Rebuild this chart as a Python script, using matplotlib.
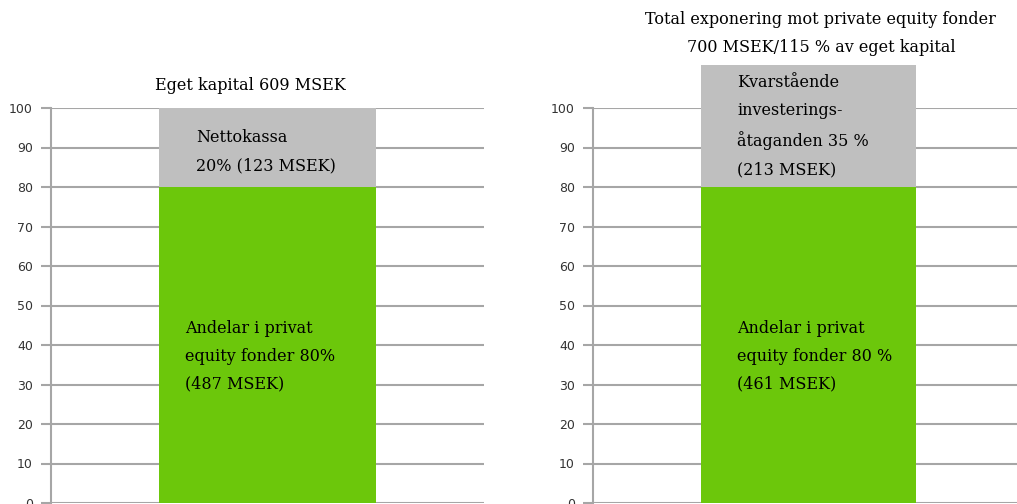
import matplotlib.pyplot as plt

# data
left_green = 80
left_grey = 20
right_green = 80
right_grey = 31  # bar reaches ~111 on the axis
yticks = [0, 10, 20, 30, 40, 50, 60, 70, 80, 90, 100]

left_title = "Eget kapital 609 MSEK"
right_title = "Total exponering mot private equity fonder\n700 MSEK/115 % av eget kapital"
left_grey_text = "Nettokassa\n20% (123 MSEK)"
left_green_text = "Andelar i privat\nequity fonder 80%\n(487 MSEK)"
right_grey_text = "Kvarstående\ninvesterings-\nåtaganden 35 %\n(213 MSEK)"
right_green_text = "Andelar i privat\nequity fonder 80 %\n(461 MSEK)"

GREEN = "#6cc70b"
GREY = "#bfbfbf"
SERIF = "DejaVu Serif"

fig = plt.figure(figsize=(10.17, 5.04), dpi=100)
ax1 = fig.add_axes([51 / 1017, 1 / 504, 433 / 1017, 395 / 504])
ax2 = fig.add_axes([593 / 1017, 1 / 504, 430 / 1017, 395 / 504])


def setup(ax):
    ax.set_xlim(-0.5, 0.5)
    ax.set_ylim(0, 100)
    ax.set_yticks(yticks)
    ax.set_xticks([])
    ax.grid(axis="y", color="#a6a6a6", lw=1.5)
    ax.set_axisbelow(True)
    for s in ["top", "right", "bottom"]:
        ax.spines[s].set_visible(False)
    ax.spines["left"].set_color("#a6a6a6")
    ax.spines["left"].set_linewidth(1.5)
    ax.tick_params(axis="y", length=7, width=1.5, color="#a6a6a6",
                   labelsize=9, labelcolor="#333333", pad=6)


setup(ax1)
setup(ax2)

ax1.bar(0, left_green, width=0.5, color=GREEN, clip_on=False)
ax1.bar(0, left_grey, bottom=left_green, width=0.5, color=GREY, clip_on=False)
ax2.bar(0, right_green, width=0.5, color=GREEN, clip_on=False)
ax2.bar(0, right_grey, bottom=right_green, width=0.5, color=GREY, clip_on=False)

fs = 11.5
ls = 1.85
ax1.text(-0.04, 105.8, left_title, ha="center", va="center", fontsize=fs,
         family=SERIF, clip_on=False)
ax2.text(0.03, 118.9, right_title, ha="center", va="center", fontsize=fs,
         family=SERIF, linespacing=ls, clip_on=False)

ax1.text(-0.165, 88.9, left_grey_text, ha="left", va="center", fontsize=fs,
         family=SERIF, linespacing=ls)
ax1.text(-0.19, 37.2, left_green_text, ha="left", va="center", fontsize=fs,
         family=SERIF, linespacing=ls)
ax2.text(-0.165, 95.4, right_grey_text, ha="left", va="center", fontsize=fs,
         family=SERIF, linespacing=ls, clip_on=False)
ax2.text(-0.165, 37.2, right_green_text, ha="left", va="center", fontsize=fs,
         family=SERIF, linespacing=ls)

fig.savefig("out.png", dpi=100)
